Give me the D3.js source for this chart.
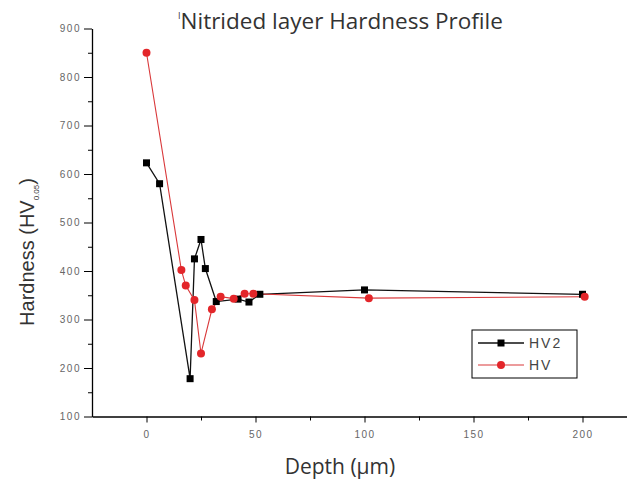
<!DOCTYPE html>
<html>
<head>
<meta charset="utf-8">
<script src="https://cdn.jsdelivr.net/npm/d3@7"></script>
<style>
body { margin: 0; background: #fff; }
.tick text { font-family: "Liberation Sans", Arial, sans-serif; font-size: 10px; fill: #666; letter-spacing: 1.5px; }
.domain, .tick line { stroke: #000; }
</style>
</head>
<body>
<svg id="chart" width="627" height="485"></svg>
<script>
// values
var depthHV2 = [0, 6, 20, 22, 25, 27, 32, 42, 47, 52, 100, 200];
var hardHV2  = [623, 580, 178, 425, 465, 405, 337, 342, 336, 352, 361, 352];
var depthHV  = [0, 16, 18, 22, 25, 30, 34, 40, 45, 49, 102, 201];
var hardHV   = [850, 402, 370, 340, 230, 321, 347, 343, 353, 353, 344, 347];
var yTicks = [100, 200, 300, 400, 500, 600, 700, 800, 900];
var yMinor = [150, 250, 350, 450, 550, 650, 750, 850];
var xTicks = [0, 50, 100, 150, 200];
var xMinor = [25, 75, 125, 175, 225];
var seriesNames = ["HV2", "HV"];

var svg = d3.select("#chart");

var x = d3.scaleLinear().domain([-25, 250]).range([92, 92 + 275 * 2.18]);
var y = d3.scaleLinear().domain([100, 900]).range([416.5, 28.5]);

// y axis
svg.append("g")
	.attr("transform", "translate(" + x(-25) + ",0)")
	.call(d3.axisLeft(y).tickValues(yMinor).tickSize(4).tickFormat(""))
	.select(".domain").remove();
var ya = svg.append("g")
	.attr("transform", "translate(" + x(-25) + ",0)")
	.call(d3.axisLeft(y).tickValues(yTicks).tickSize(8).tickSizeOuter(0).tickPadding(3));
ya.select(".domain").attr("stroke-width", 1.3);

// x axis
svg.append("g")
	.attr("transform", "translate(0," + y(100) + ")")
	.call(d3.axisBottom(x).tickValues(xMinor).tickSize(4).tickFormat(""))
	.select(".domain").remove();
var xa = svg.append("g")
	.attr("transform", "translate(0," + y(100) + ")")
	.call(d3.axisBottom(x).tickValues(xTicks).tickSize(6).tickSizeOuter(0).tickPadding(8));
xa.select(".domain").attr("stroke-width", 1.3);

var hv2 = depthHV2.map(function(d, i) { return [d, hardHV2[i]]; });
var hv = depthHV.map(function(d, i) { return [d, hardHV[i]]; });

var line = d3.line()
	.x(function(d) { return x(d[0]); })
	.y(function(d) { return y(d[1]); });

svg.append("path").datum(hv2)
	.attr("fill", "none").attr("stroke", "#111").attr("stroke-width", 1.3)
	.attr("d", line);
svg.append("path").datum(hv)
	.attr("fill", "none").attr("stroke", "#d9383a").attr("stroke-width", 1.1)
	.attr("d", line);

svg.selectAll(".sq").data(hv2).enter().append("rect")
	.attr("x", function(d) { return x(d[0]) - 3.5; })
	.attr("y", function(d) { return y(d[1]) - 3.5; })
	.attr("width", 7).attr("height", 7)
	.attr("fill", "#000");
svg.selectAll(".dot").data(hv).enter().append("circle")
	.attr("cx", function(d) { return x(d[0]); })
	.attr("cy", function(d) { return y(d[1]); })
	.attr("r", 4)
	.attr("fill", "#e3262a");

// title
var title = svg.append("text")
	.attr("x", 178).attr("y", 29)
	.attr("font-family", "'Open Sans', sans-serif")
	.attr("font-size", 22.5).attr("fill", "#333");
title.append("tspan").attr("font-size", 9).attr("dy", -10).text("I");
title.append("tspan").attr("dy", 10).text("Nitrided layer Hardness Profile");

// axis titles
svg.append("text")
	.attr("x", 340).attr("y", 474)
	.attr("text-anchor", "middle")
	.attr("font-family", "'Open Sans', sans-serif")
	.attr("font-size", 21).attr("fill", "#333")
	.text("Depth (µm)");

var yt = svg.append("text")
	.attr("transform", "translate(34,252) rotate(-90)")
	.attr("text-anchor", "middle")
	.attr("font-family", "'Liberation Sans Narrow', 'Liberation Sans', sans-serif")
	.attr("font-size", 20).attr("fill", "#333");
yt.append("tspan").text("Hardness (HV");
yt.append("tspan").attr("font-size", 8).attr("dy", 5).text("0.05");
yt.append("tspan").attr("dy", -5).text(")");

// legend
var lg = svg.append("g").attr("transform", "translate(472,330)");
lg.append("rect").attr("width", 105).attr("height", 48)
	.attr("fill", "#fff").attr("stroke", "#000").attr("stroke-width", 1);
seriesNames.forEach(function(name, i) {
	var yy = 13 + i * 22;
	var col = i === 0 ? "#111" : "#d9383a";
	lg.append("line").attr("x1", 6).attr("x2", 52).attr("y1", yy).attr("y2", yy)
		.attr("stroke", col).attr("stroke-width", i === 0 ? 1.3 : 1.1);
	if (i === 0) {
		lg.append("rect").attr("x", 25.5).attr("y", yy - 3.5).attr("width", 7).attr("height", 7).attr("fill", "#000");
	} else {
		lg.append("circle").attr("cx", 29).attr("cy", yy).attr("r", 4).attr("fill", "#e3262a");
	}
	lg.append("text").attr("x", 57).attr("y", yy + 5)
		.attr("font-family", "'Liberation Sans', Arial, sans-serif")
		.attr("font-size", 14).attr("letter-spacing", 2).attr("fill", "#444")
		.text(name);
});
</script>
</body>
</html>
